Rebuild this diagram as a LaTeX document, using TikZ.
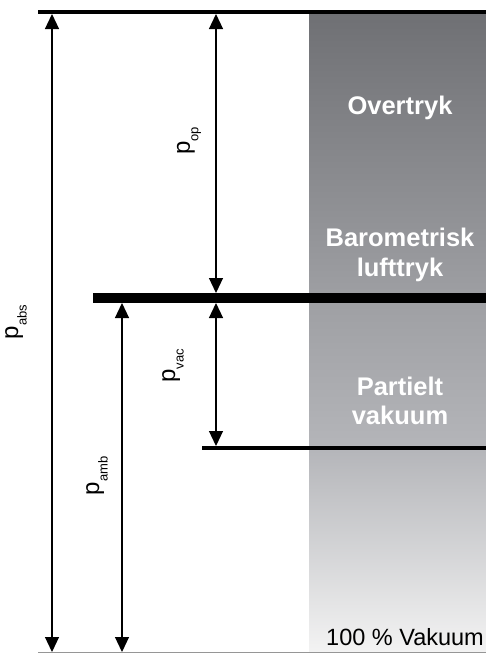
\documentclass[tikz,border=0pt]{standalone}
\usepackage{fontspec}
\setmainfont{Liberation Sans}
\usetikzlibrary{arrows.meta}
\definecolor{ctop}{RGB}{111,112,116}
\definecolor{cmid}{RGB}{158,159,163}
\definecolor{clow}{RGB}{180,181,185}
\definecolor{cbot}{RGB}{243,243,243}
\definecolor{lgray}{RGB}{150,150,150}
\pgfdeclareverticalshading{vacshade}{100bp}{color(0bp)=(cbot); color(25bp)=(cbot); color(41bp)=(clow); color(52.7bp)=(cmid); color(75bp)=(ctop); color(100bp)=(ctop)}
\begin{document}
\begin{tikzpicture}[x=1pt,y=-1pt,
  arr/.style={{Triangle[width=14pt,length=15pt]}-{Triangle[width=14pt,length=15pt]}, line width=1.2pt},
  zone/.style={text=white, font=\bfseries\fontsize{25.5}{30}\selectfont, anchor=base, inner sep=0pt},
  plabel/.style={rotate=90, font=\fontsize{24}{24}\selectfont, inner sep=0pt}]
\useasboundingbox (0,0) rectangle (486,654);
% gradient column
\shade[shading=vacshade] (309,13) rectangle (486,652);
% level lines
\draw[line width=3.5pt] (38,12) -- (486,12);
\draw[line width=10pt] (93,298) -- (486,298);
\draw[line width=4pt] (202,448) -- (486,448);
\draw[lgray, line width=1pt] (38,652.5) -- (486,652.5);
% arrow end points
\coordinate (absT) at (52,14);
\coordinate (absB) at (52,652);
\coordinate (opT) at (216,14);
\coordinate (opB) at (216,293);
\coordinate (ambT) at (122,303);
\coordinate (ambB) at (122,652);
\coordinate (vacT) at (216,303);
\coordinate (vacB) at (216,446);
\draw[arr] (absT) -- (absB);
\draw[arr] (opT) -- (opB);
\draw[arr] (ambT) -- (ambB);
\draw[arr] (vacT) -- (vacB);
% labels
\newcommand{\plab}[1]{p\raisebox{-0.35em}{\fontsize{13}{13}\selectfont #1}}
\node[plabel] (labs) at (16,322) {\plab{abs}};
\node[plabel] (lop) at (189,141) {\plab{op}};
\node[plabel] (lvac) at (173,366) {\plab{vac}};
\node[plabel] (lamb) at (97,476) {\plab{amb}};
% zone texts
\node[zone] (t1) at (400,114) {Overtryk};
\node[zone] (t2) at (400,246) {Barometrisk};
\node[zone] (t3) at (400,276) {lufttryk};
\node[zone] (t4) at (400,395) {Partielt};
\node[zone] (t5) at (400,424) {vakuum};
\node[anchor=base, inner sep=0pt, font=\fontsize{23.5}{28}\selectfont] (t6) at (405,645) {100 \% Vakuum};
\end{tikzpicture}
\end{document}
